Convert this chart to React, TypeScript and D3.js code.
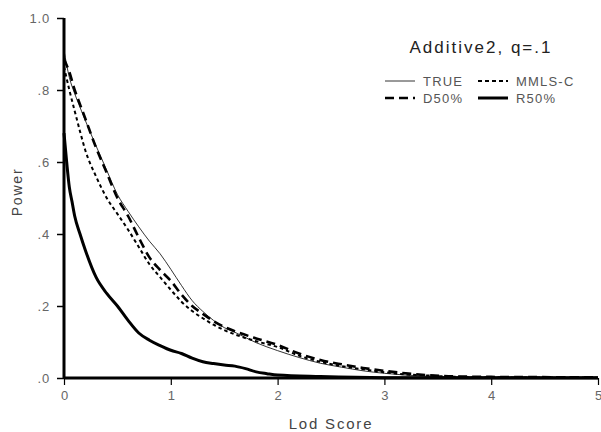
import React, { useRef, useEffect } from "react";
import * as d3 from "d3";

// lod score grid shared by the three upper curves
const lodGrid = [0, 0.05, 0.1, 0.15, 0.2, 0.3, 0.4, 0.5, 0.6, 0.7, 0.8, 0.9, 1.0, 1.1, 1.2, 1.3, 1.4, 1.5, 1.6, 1.8, 2.0, 2.2, 2.4, 2.6, 2.8, 3.0, 3.2, 3.4, 3.6, 4.0, 5.0];
const powerTrue = [0.91, 0.835, 0.79, 0.752, 0.715, 0.645, 0.577, 0.51, 0.463, 0.42, 0.38, 0.345, 0.302, 0.257, 0.215, 0.185, 0.16, 0.14, 0.127, 0.098, 0.076, 0.057, 0.041, 0.03, 0.02, 0.013, 0.008, 0.005, 0.003, 0.002, 0.001];
const powerD50 = [0.885, 0.85, 0.8, 0.76, 0.72, 0.64, 0.57, 0.5, 0.45, 0.39, 0.335, 0.3, 0.27, 0.232, 0.2, 0.178, 0.158, 0.142, 0.13, 0.11, 0.092, 0.068, 0.05, 0.038, 0.028, 0.02, 0.013, 0.008, 0.005, 0.003, 0.002];
const powerMmls = [0.865, 0.8, 0.742, 0.685, 0.632, 0.56, 0.5, 0.456, 0.412, 0.364, 0.316, 0.28, 0.245, 0.212, 0.186, 0.166, 0.148, 0.133, 0.121, 0.102, 0.086, 0.062, 0.045, 0.033, 0.024, 0.016, 0.01, 0.007, 0.004, 0.002, 0.001];

// R50% drops fast, so it has its own grid
const lodR50 = [0, 0.025, 0.05, 0.075, 0.1, 0.15, 0.2, 0.3, 0.4, 0.5, 0.6, 0.7, 0.8, 0.9, 1.0, 1.1, 1.2, 1.3, 1.4, 1.5, 1.6, 1.7, 1.8, 1.9, 2.0, 2.4, 3.0, 5.0];
const powerR50 = [0.68, 0.6, 0.53, 0.49, 0.45, 0.4, 0.355, 0.28, 0.235, 0.2, 0.16, 0.125, 0.105, 0.09, 0.077, 0.068, 0.055, 0.045, 0.04, 0.036, 0.033, 0.026, 0.017, 0.012, 0.008, 0.004, 0.001, 0.0005];

const xTicks = [0, 1, 2, 3, 4, 5];
const yTicks = [0, 0.2, 0.4, 0.6, 0.8, 1.0];
const yTickLabels = [".0", ".2", ".4", ".6", ".8", "1.0"];

const FONT = "'Liberation Sans', Arial, sans-serif";

export default function App() {
    const svgRef = useRef<SVGSVGElement>(null);

    useEffect(() => {
        const w = 601;
        const h = 432;
        const svg = d3.select(svgRef.current)
            .attr("width", w)
            .attr("height", h)
            .style("background", "#fff");
        svg.selectAll("*").remove();

        const x = d3.scaleLinear().domain([0, 5]).range([64, 598]);
        const y = d3.scaleLinear().domain([0, 1]).range([378, 18]);

        // y ticks + labels
        const yAxis = d3.axisLeft(y)
            .tickValues(yTicks)
            .tickSize(7)
            .tickPadding(7)
            .tickFormat((d, i) => yTickLabels[i]);
        const gy = svg.append("g").attr("transform", `translate(${x(0)},0)`).call(yAxis);
        gy.select(".domain").remove();
        gy.selectAll("line").attr("stroke", "#000").attr("stroke-width", 1.5);
        gy.selectAll("text")
            .attr("font-family", FONT)
            .attr("font-size", 13)
            .attr("fill", "#666")
            .attr("letter-spacing", 0.8);

        // x ticks + labels
        const xAxis = d3.axisBottom(x)
            .tickValues(xTicks)
            .tickSize(7)
            .tickPadding(6)
            .tickFormat(d3.format("d"));
        const gx = svg.append("g").attr("transform", `translate(0,${y(0)})`).call(xAxis);
        gx.select(".domain").remove();
        gx.selectAll("line").attr("stroke", "#000").attr("stroke-width", 1.2);
        gx.selectAll("text")
            .attr("font-family", FONT)
            .attr("font-size", 13)
            .attr("fill", "#666");

        // heavy axis frame lines
        svg.append("line")
            .attr("x1", x(0)).attr("x2", x(0))
            .attr("y1", y(1)).attr("y2", y(0))
            .attr("stroke", "#000").attr("stroke-width", 3);
        svg.append("line")
            .attr("x1", x(0)).attr("x2", x(5))
            .attr("y1", y(0)).attr("y2", y(0))
            .attr("stroke", "#000").attr("stroke-width", 3);

        const line = d3.line<[number, number]>()
            .x(d => x(d[0]))
            .y(d => y(d[1]))
            .curve(d3.curveMonotoneX);

        const series = [
            { xs: lodGrid, ys: powerTrue, width: 0.8, dash: null },
            { xs: lodGrid, ys: powerD50, width: 2.6, dash: "9,5" },
            { xs: lodGrid, ys: powerMmls, width: 2, dash: "3.5,3" },
            { xs: lodR50, ys: powerR50, width: 3, dash: null },
        ];
        series.forEach(s => {
            const pts = s.xs.map((v, i) => [v, s.ys[i]] as [number, number]);
            svg.append("path")
                .attr("d", line(pts))
                .attr("fill", "none")
                .attr("stroke", "#000")
                .attr("stroke-width", s.width)
                .attr("stroke-dasharray", s.dash);
        });

        // axis titles
        svg.append("text")
            .attr("x", 331).attr("y", 429)
            .attr("text-anchor", "middle")
            .attr("font-family", FONT).attr("font-size", 15)
            .attr("letter-spacing", 1.8)
            .attr("fill", "#444")
            .text("Lod Score");
        svg.append("text")
            .attr("transform", "translate(22,192) rotate(-90)")
            .attr("text-anchor", "middle")
            .attr("font-family", FONT).attr("font-size", 14)
            .attr("letter-spacing", 1.8)
            .attr("fill", "#444")
            .text("Power");

        // legend
        svg.append("text")
            .attr("x", 481).attr("y", 53)
            .attr("text-anchor", "middle")
            .attr("font-family", FONT).attr("font-size", 17)
            .attr("letter-spacing", 2)
            .attr("fill", "#222")
            .text("Additive2,  q=.1");

        const legend = [
            { label: "TRUE", lx: 385, ly: 81, width: 0.8, dash: null },
            { label: "MMLS-C", lx: 478, ly: 81, width: 2, dash: "4,3" },
            { label: "D50%", lx: 385, ly: 98, width: 2.6, dash: "9,5" },
            { label: "R50%", lx: 478, ly: 98, width: 3, dash: null },
        ];
        legend.forEach(l => {
            svg.append("line")
                .attr("x1", l.lx).attr("x2", l.lx + 30)
                .attr("y1", l.ly).attr("y2", l.ly)
                .attr("stroke", "#000")
                .attr("stroke-width", l.width)
                .attr("stroke-dasharray", l.dash);
            svg.append("text")
                .attr("x", l.lx + 38).attr("y", l.ly + 5)
                .attr("font-family", FONT).attr("font-size", 13)
                .attr("letter-spacing", 1.2)
                .attr("fill", "#555")
                .text(l.label);
        });
    }, []);

    return (
        <div style={{ position: "absolute", left: 0, top: 0 }}>
            <svg ref={svgRef} style={{ display: "block" }}></svg>
        </div>
    );
}
